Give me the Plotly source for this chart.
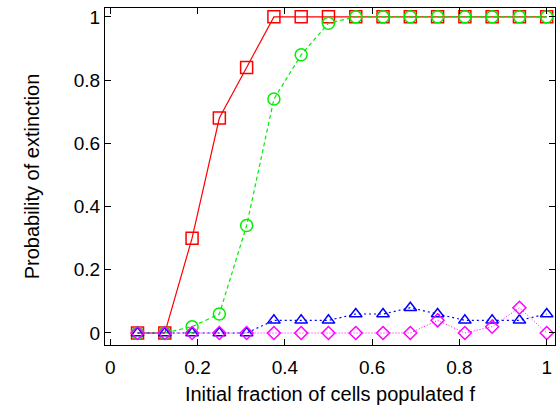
import plotly.graph_objects as go

f = [k / 16 for k in range(1, 17)]
red = [0, 0, 0.30, 0.68, 0.84, 1, 1, 1, 1, 1, 1, 1, 1, 1, 1, 1]
green = [0, 0, 0.02, 0.06, 0.34, 0.74, 0.88, 0.98, 1, 1, 1, 1, 1, 1, 1, 1]
blue = [0, 0, 0, 0, 0, 0.04, 0.04, 0.04, 0.06, 0.06, 0.08, 0.06, 0.04, 0.04, 0.04, 0.06]
magenta = [0, 0, 0, 0, 0, 0, 0, 0, 0, 0, 0, 0.04, 0, 0.02, 0.08, 0]

ticks = [0, 0.2, 0.4, 0.6, 0.8, 1]
tick_text = ["0", "0.2", "0.4", "0.6", "0.8", "1"]

FONT = "Liberation Sans, Arial"

fig = go.Figure()
series = [
    (red, "#ff0000", "solid", "square-open", 12, 1.2),
    (green, "#00ee00", "4px,3px", "circle-open", 12, 1.2),
    (blue, "#0000ff", "2px,3px", "triangle-up-open", 11, 1.2),
    (magenta, "#ff00ff", "1px,2px", "diamond-open", 10, 1.0),
]
for ys, c, dash, sym, sz, w in series:
    fig.add_trace(go.Scatter(
        x=f, y=ys, mode="lines+markers",
        line=dict(color=c, width=w, dash=dash),
        marker=dict(symbol=sym, size=sz, color=c, line=dict(width=1.5, color=c)),
        showlegend=False,
    ))

axis_common = dict(
    showgrid=False, zeroline=False, showline=True, linecolor="black", linewidth=1,
    mirror="ticks", ticks="inside", ticklen=6, tickcolor="black",
    tickvals=ticks, ticktext=tick_text, automargin=False,
    tickfont=dict(family=FONT, size=19, color="black"),
)
fig.update_xaxes(range=[-0.012, 1.019],
                 title=dict(text="Initial fraction of cells populated f",
                            font=dict(family=FONT, size=20, color="black"),
                            standoff=10),
                 ticklabelstandoff=5,
                 **axis_common)
fig.update_yaxes(range=[-0.038, 1.028],
                 title=dict(text="Probability of extinction",
                            font=dict(family=FONT, size=20, color="black"),
                            standoff=28),
                 **axis_common)
fig.update_layout(
    width=559, height=405,
    margin=dict(l=105, r=4, t=8, b=60),
    paper_bgcolor="white", plot_bgcolor="white",
)
fig.write_html("out.html")
